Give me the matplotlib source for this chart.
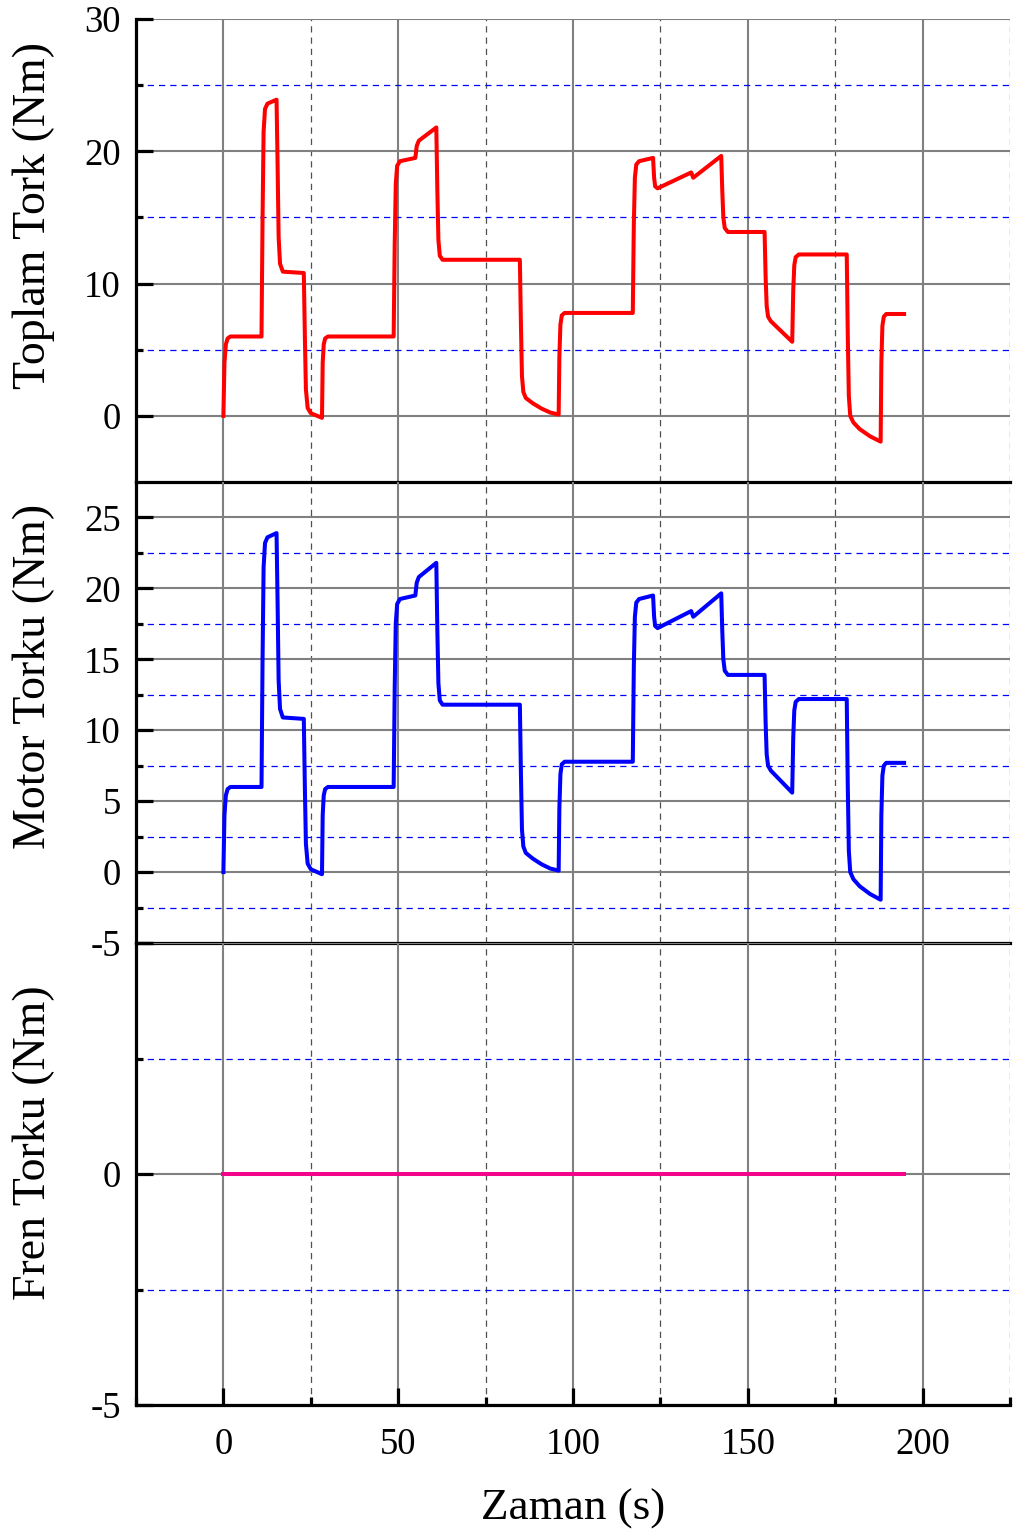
import matplotlib
matplotlib.use("Agg")
import matplotlib.pyplot as plt
from matplotlib.ticker import MultipleLocator, FixedLocator

plt.rcParams['font.family'] = ['Liberation Serif', 'DejaVu Serif']

# Torque profile breakpoints (time in s, torque in Nm)
time_s = [0, 0.3, 0.7, 1.2, 2.0, 10.9, 11.2, 11.5, 11.9, 12.6, 15.2, 15.5, 15.8, 16.2, 17.0,
          23.0, 23.3, 23.6, 24.1, 25.0, 28.2, 28.4, 28.7, 29.1, 29.9, 48.7, 49.0, 49.3,
          49.7, 50.5, 54.9, 55.3, 55.9, 60.9, 61.2, 61.5, 61.9, 62.7, 84.8, 85.1, 85.4,
          85.8, 86.5, 88.5, 91.0, 93.5, 95.9, 96.1, 96.4, 96.8, 97.6, 117.1, 117.4,
          117.7, 118.1, 118.9, 122.9, 123.2, 123.5, 124.2, 133.8, 134.4, 142.4, 142.7,
          143.0, 143.4, 144.3, 154.8, 155.1, 155.4, 155.8, 156.6, 162.7, 163.0, 163.3,
          163.7, 164.6, 178.3, 178.6, 178.9, 179.3, 180.2, 182.0, 185.0, 188.0, 188.2,
          188.5, 188.9, 189.6, 194.7]
total_torque = [0, 4.0, 5.4, 5.85, 6.0, 6.0, 15.0, 21.5, 23.2, 23.6, 23.9, 19.0, 13.5, 11.5, 10.9,
                10.8, 6.0, 2.0, 0.6, 0.2, -0.15, 4.0, 5.4, 5.85, 6.0, 6.0, 13.0, 17.5,
                18.9, 19.25, 19.5, 20.4, 20.8, 21.8, 17.0, 13.3, 12.1, 11.8, 11.8, 7.0, 3.0,
                1.8, 1.35, 0.95, 0.55, 0.25, 0.1, 4.5, 6.9, 7.6, 7.78, 7.78, 14.5,
                18.0, 19.0, 19.25, 19.5, 18.0, 17.35, 17.2, 18.4, 18.0, 19.65, 17.0,
                15.0, 14.2, 13.9, 13.9, 10.5, 8.3, 7.5, 7.15, 5.6, 9.5, 11.4,
                12.0, 12.2, 12.2, 6.0, 1.5, 0.0, -0.5, -1.0, -1.55, -1.95, 4.0,
                6.8, 7.5, 7.7, 7.7]
motor_torque = list(total_torque)
brake_time = [0, 194.7]
brake_torque = [0, 0]

x_ticks = [0, 50, 100, 150, 200]
y_labels = ['Toplam Tork (Nm)', 'Motor Torku (Nm)', 'Fren Torku (Nm)']
label_y = [0.576, 0.578, 0.567]
x_label = 'Zaman (s)'

fig = plt.figure(figsize=(10.13, 15.33), dpi=100)
H = 1533.0
left, right = 136 / 1013, 1010 / 1013
edges = [19, 482, 943, 1405]
axes = []
for i in range(3):
    top = 1 - edges[i] / H
    bot = 1 - edges[i + 1] / H
    ax = fig.add_axes([left, bot, right - left, top - bot])
    ax.patch.set_visible(False)
    axes.append(ax)

ax1, ax2, ax3 = axes

ax1.plot(time_s, total_torque, color='#FF0000', lw=2.9, solid_joinstyle='round', zorder=5)
ax2.plot(time_s, motor_torque, color='#0000FF', lw=2.9, solid_joinstyle='round', zorder=5)
ax3.plot(brake_time, brake_torque, color='#F2058B', lw=2.9, zorder=5)

ax1.set_ylim(-5, 30)
ax1.yaxis.set_major_locator(FixedLocator([0, 10, 20, 30]))
ax1.yaxis.set_minor_locator(FixedLocator([5, 15, 25]))

ax2.set_ylim(-5, 27.5)
ax2.yaxis.set_major_locator(FixedLocator([-5, 0, 5, 10, 15, 20, 25]))
ax2.yaxis.set_minor_locator(FixedLocator([-2.5, 2.5, 7.5, 12.5, 17.5, 22.5]))

ax3.set_ylim(-5, 5)
ax3.yaxis.set_major_locator(FixedLocator([-5, 0, 5]))
ax3.yaxis.set_minor_locator(FixedLocator([-2.5, 2.5]))

for i, ax in enumerate(axes):
    ax.set_xlim(-25, 225)
    ax.xaxis.set_major_locator(FixedLocator(x_ticks))
    ax.xaxis.set_minor_locator(MultipleLocator(25))
    ax.set_axisbelow(True)
    ax.grid(which='major', axis='both', color='#808080', lw=1.5, ls='-')
    ax.grid(which='minor', axis='y', color='#0000FF', lw=0.9, ls=(0, (5, 4)))
    ax.grid(which='minor', axis='x', color='#505050', lw=0.9, ls=(0, (5, 4)))
    for side in ('top', 'right'):
        ax.spines[side].set_visible(False)
    for side in ('left', 'bottom'):
        ax.spines[side].set_linewidth(2.3)
        ax.spines[side].set_zorder(6)
    ax.tick_params(axis='y', which='major', direction='in', length=12, width=2.3,
                   labelsize=26.5, pad=11)
    ax.tick_params(axis='y', which='minor', direction='in', length=5, width=2.3)
    ax.set_ylabel(y_labels[i], fontsize=33)
    ax.yaxis.set_label_coords(-0.093, label_y[i])
    if i < 2:
        ax.tick_params(axis='x', which='both', length=0, labelbottom=False)
    else:
        ax.tick_params(axis='x', which='major', direction='in', length=12, width=2.3,
                       labelsize=26.5, pad=16)
        ax.tick_params(axis='x', which='minor', direction='in', length=6, width=2.3)
        ax.set_xlabel(x_label, fontsize=32.5, labelpad=19)

# the uppermost label of the brake-torque panel is left blank
ax3.set_yticklabels(['-5', '0', ''])
ax2.set_yticklabels(['-5', '0', '5', '10', '15', '20', '25'])
ax1.set_yticklabels(['0', '10', '20', '30'])

fig.savefig('out.png', dpi=100)
